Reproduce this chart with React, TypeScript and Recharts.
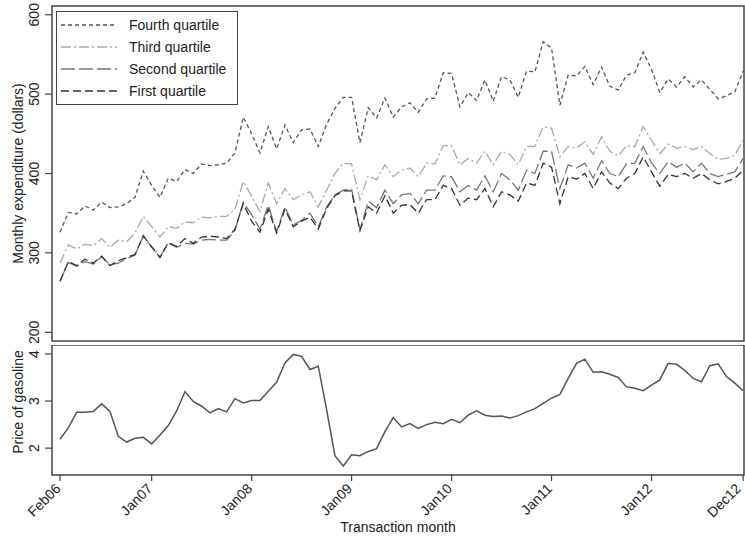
import { LineChart, Line, XAxis, YAxis, ReferenceArea, Legend } from 'recharts';

// month index 0 = Feb06 ... 82 = Dec12
const tickIdx = [0, 11, 23, 35, 47, 59, 71, 82];
const tickLabels = ['Feb06', 'Jan07', 'Jan08', 'Jan09', 'Jan10', 'Jan11', 'Jan12', 'Dec12'];

const q4 = [
  326, 351, 349, 359, 354, 364, 357, 358, 362, 370,
  403, 385, 370, 394, 390, 405, 400, 412, 410, 411,
  413, 426, 471, 450, 426, 459, 431, 461, 439, 455,
  456, 434, 462, 482, 496, 496, 439, 483, 470, 495,
  471, 484, 489, 477, 494, 495, 527, 526, 484, 502,
  492, 518, 491, 522, 518, 496, 529, 528, 566, 558,
  486, 524, 523, 535, 512, 534, 510, 505, 524, 527,
  553, 531, 502, 519, 509, 522, 509, 518, 506, 494,
  498, 503, 529,
];
const q3 = [
  287, 310, 305, 311, 309, 318, 307, 316, 314, 325,
  346, 333, 320, 333, 331, 339, 338, 345, 344, 346,
  346, 355, 390, 371, 352, 388, 362, 381, 367, 373,
  377, 358, 379, 400, 413, 412, 367, 397, 392, 411,
  396, 404, 407, 396, 413, 412, 435, 435, 411, 419,
  413, 428, 411, 428, 424, 411, 434, 434, 459, 457,
  421, 434, 432, 440, 424, 446, 428, 422, 435, 434,
  459, 442, 425, 437, 432, 434, 430, 434, 425, 418,
  419, 423, 442,
];
const q2 = [
  265, 288, 283, 289, 286, 295, 285, 287, 293, 297,
  322, 307, 295, 312, 307, 312, 311, 316, 317, 316,
  316, 328, 364, 348, 330, 360, 327, 358, 335, 341,
  350, 333, 358, 373, 379, 380, 329, 365, 357, 379,
  362, 373, 375, 362, 379, 379, 397, 396, 377, 385,
  379, 397, 377, 400, 392, 379, 404, 400, 428, 428,
  381, 411, 407, 413, 394, 416, 400, 396, 412, 413,
  434, 413, 400, 415, 408, 413, 402, 413, 400, 396,
  399, 402, 419,
];
const q1 = [
  264, 289, 284, 292, 287, 296, 284, 290, 294, 298,
  321, 308, 294, 313, 308, 318, 312, 320, 321, 320,
  318, 330, 362, 340, 326, 355, 325, 355, 333, 340,
  345, 330, 356, 372, 378, 378, 328, 358, 350, 372,
  350, 360, 361, 350, 367, 367, 385, 381, 360, 369,
  367, 381, 358, 377, 373, 365, 388, 385, 413, 408,
  362, 396, 393, 400, 381, 402, 388, 381, 394, 400,
  421, 402, 384, 399, 396, 400, 394, 400, 392, 387,
  390, 394, 404,
];
const gas = [
  2.19, 2.43, 2.76, 2.76, 2.78, 2.94, 2.78, 2.25, 2.13, 2.21,
  2.23, 2.09, 2.28, 2.48, 2.79, 3.2, 2.99, 2.89, 2.75, 2.84,
  2.77, 3.05, 2.96, 3.01, 3.01, 3.21, 3.4, 3.81, 3.99, 3.95,
  3.67, 3.74, 2.82, 1.84, 1.62, 1.86, 1.84, 1.93, 1.99, 2.35,
  2.65, 2.45, 2.52, 2.42, 2.5, 2.55, 2.52, 2.61, 2.54, 2.7,
  2.79, 2.7, 2.67, 2.68, 2.64, 2.69, 2.77, 2.84, 2.95, 3.06,
  3.14, 3.48, 3.8, 3.89, 3.61, 3.62, 3.57, 3.5, 3.3, 3.27,
  3.22, 3.34, 3.45, 3.8, 3.78, 3.65, 3.48, 3.41, 3.75, 3.79,
  3.52, 3.38, 3.22,
];

const expTicks = [200, 300, 400, 500, 600];
const gasTicks = [2, 3, 4];

const SERIES = [
  { key: 'q4', name: 'Fourth quartile', color: '#555', dash: '4 3' },
  { key: 'q3', name: 'Third quartile', color: '#aaa', dash: '10 3 2 3' },
  { key: 'q2', name: 'Second quartile', color: '#777', dash: '14 4' },
  { key: 'q1', name: 'First quartile', color: '#333', dash: '8 4' },
];

const FONT = '"Liberation Sans", Arial, sans-serif';
const X_DOMAIN: [number, number] = [-0.96, 82.1];
const EXP_DOMAIN: [number, number] = [189, 611];
const GAS_DOMAIN: [number, number] = [1.43, 4.19];
const FRAME = '#444';

const expRows = q4.map((v, i) => ({ m: i, q4: v, q3: q3[i], q2: q2[i], q1: q1[i] }));
const gasRows = gas.map((v, i) => ({ m: i, gas: v }));

const YTick = ({ x, y, payload }: any) => (
  <text
    x={x - 9}
    y={y}
    transform={`rotate(-90, ${x - 9}, ${y})`}
    textAnchor="middle"
    dominantBaseline="central"
    fontSize={14}
    fill="#222"
    fontFamily={FONT}
  >
    {payload.value}
  </text>
);

const XTick = ({ x, y, payload }: any) => {
  const k = tickIdx.indexOf(payload.value);
  // last label sits against the right edge; nudge it so it stays on the page
  const ax = k === tickIdx.length - 1 ? x - 5 : x - 2;
  const ay = y + 3;
  return (
    <text
      x={ax}
      y={ay}
      transform={`rotate(-45, ${ax}, ${ay})`}
      textAnchor="end"
      dominantBaseline="central"
      fontSize={14}
      fill="#222"
      fontFamily={FONT}
    >
      {tickLabels[k]}
    </text>
  );
};

const yTitle = (text: string, shift = 0) => (props: any) => {
  const vb = props.viewBox;
  const cy = vb.y + vb.height / 2 + shift;
  return (
    <text
      x={18}
      y={cy}
      transform={`rotate(-90, 18, ${cy})`}
      textAnchor="middle"
      dominantBaseline="central"
      fontSize={14}
      fill="#222"
      fontFamily={FONT}
    >
      {text}
    </text>
  );
};

const xTitle = (props: any) => {
  const vb = props.viewBox;
  return (
    <text x={vb.x + vb.width / 2} y={vb.y + 57} textAnchor="middle" fontSize={14} fill="#222" fontFamily={FONT}>
      Transaction month
    </text>
  );
};

const LegendBox = () => (
  <div
    style={{
      boxSizing: 'border-box',
      width: 182,
      border: `1.5px solid ${FRAME}`,
      background: '#fff',
      padding: '2px 4px',
      fontFamily: FONT,
      fontSize: 14,
      color: '#222',
    }}
  >
    {SERIES.map((s) => (
      <div key={s.key} style={{ display: 'flex', alignItems: 'center', height: 22, whiteSpace: 'nowrap' }}>
        <svg width={56} height={10} style={{ marginRight: 12 }}>
          <line x1={0} y1={5} x2={56} y2={5} stroke={s.color} strokeWidth={1.5} strokeDasharray={s.dash} />
        </svg>
        <span>{s.name}</span>
      </div>
    ))}
  </div>
);

export default function App() {
  return (
    <div style={{ position: 'absolute', left: 0, top: 0, width: 745, height: 541, background: '#fff' }}>
      <div style={{ position: 'absolute', left: 0, top: 0 }}>
        <LineChart width={745} height={345} data={expRows} margin={{ top: 6, right: 1, left: 0, bottom: 4 }}>
          <XAxis type="number" dataKey="m" domain={X_DOMAIN} allowDataOverflow hide />
          <YAxis
            type="number"
            domain={EXP_DOMAIN}
            ticks={expTicks}
            allowDataOverflow
            width={52}
            axisLine={false}
            tickLine={{ stroke: FRAME, strokeWidth: 1.2 }}
            tickSize={7}
            tick={<YTick />}
            label={{ content: yTitle('Monthly expenditure (dollars)') }}
          />
          <ReferenceArea
            x1={X_DOMAIN[0]}
            x2={X_DOMAIN[1]}
            y1={EXP_DOMAIN[0]}
            y2={EXP_DOMAIN[1]}
            fill="none"
            stroke={FRAME}
            strokeWidth={1.5}
          />
          {SERIES.map((s) => (
            <Line
              key={s.key}
              type="linear"
              dataKey={s.key}
              name={s.name}
              stroke={s.color}
              strokeWidth={1.3}
              strokeDasharray={s.dash}
              dot={false}
              isAnimationActive={false}
            />
          ))}
          <Legend
            layout="horizontal"
            verticalAlign="middle"
            align="center"
            content={<LegendBox />}
            wrapperStyle={{ top: 11, left: 56, width: 182 }}
          />
        </LineChart>
      </div>
      <div style={{ position: 'absolute', left: 0, top: 345 }}>
        <LineChart width={745} height={196} data={gasRows} margin={{ top: 0, right: 1, left: 0, bottom: 0 }}>
          <XAxis
            type="number"
            dataKey="m"
            domain={X_DOMAIN}
            ticks={tickIdx}
            allowDataOverflow
            height={66}
            axisLine={false}
            tickLine={{ stroke: FRAME, strokeWidth: 1.2 }}
            tickSize={6}
            tick={<XTick />}
            interval={0}
            label={{ content: xTitle }}
          />
          <YAxis
            type="number"
            domain={GAS_DOMAIN}
            ticks={gasTicks}
            allowDataOverflow
            width={52}
            axisLine={false}
            tickLine={{ stroke: FRAME, strokeWidth: 1.2 }}
            tickSize={7}
            tick={<YTick />}
            label={{ content: yTitle('Price of gasoline', -8) }}
          />
          <ReferenceArea
            x1={X_DOMAIN[0]}
            x2={X_DOMAIN[1]}
            y1={GAS_DOMAIN[0]}
            y2={GAS_DOMAIN[1]}
            fill="none"
            stroke={FRAME}
            strokeWidth={1.5}
          />
          <Line type="linear" dataKey="gas" stroke="#555" strokeWidth={1.5} dot={false} isAnimationActive={false} />
        </LineChart>
      </div>
    </div>
  );
}
